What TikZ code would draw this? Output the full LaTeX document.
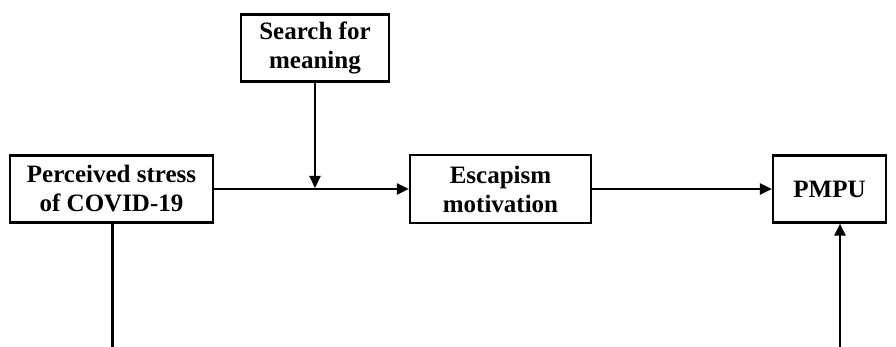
\documentclass[tikz,border=0pt]{standalone}
\usepackage{fontspec}
\setmainfont{Liberation Serif}
\usetikzlibrary{arrows.meta}
\begin{document}
\begin{tikzpicture}[x=1pt,y=-1pt,
  box/.style={draw, line width=2.2pt, font=\bfseries\fontsize{25}{29}\selectfont, align=center, inner sep=0pt},
  conn/.style={line width=2.2pt},
  arr/.style={conn, -{Triangle[length=12pt,width=11pt]}}]
\useasboundingbox (0,0) rectangle (896,347);
\node[box, minimum width=203pt, minimum height=67pt] (ps) at (111.5,189) {Perceived stress\\of COVID-19};
\node[box, minimum width=148pt, minimum height=67pt] (sm) at (315,48) {Search for\\meaning};
\node[box, minimum width=181pt, minimum height=68pt] (esc) at (500.5,189) {Escapism\\motivation};
\node[box, minimum width=113pt, minimum height=67pt] (pm) at (829.5,189) {PMPU};
\draw[arr] (ps) -- (esc);
\draw[arr] (esc) -- (pm);
\coordinate (mid) at (315,189);
\draw[arr, shorten >=1pt] (sm) -- (mid);
\coordinate (b1) at (112.5,347);
\draw[conn] (ps.south -| b1) -- (b1);
\coordinate (b2) at (840,347);
\draw[arr] (b2) -- (pm.south -| b2);
\end{tikzpicture}
\end{document}
